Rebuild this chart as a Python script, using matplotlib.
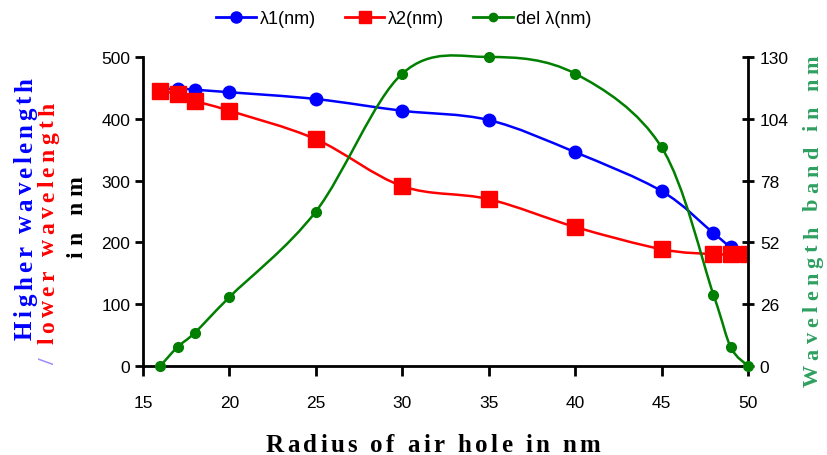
import numpy as np
import matplotlib
matplotlib.use("Agg")
import matplotlib.pyplot as plt
from matplotlib.path import Path
from matplotlib.patches import PathPatch
from matplotlib.lines import Line2D
from matplotlib.font_manager import FontProperties, findfont, get_font

# data
radius = [16, 17, 18, 20, 25, 30, 35, 40, 45, 48, 49, 50]
lambda1 = [447, 449, 447, 443, 432, 413, 398, 346, 283, 215, 193, 183]
lambda2 = [445, 440, 429, 413, 367, 291, 270, 225, 189, 181, 181, 181]
del_lambda = [0, 8, 14, 29, 65, 123, 130, 123, 92, 30, 8, 0]

left_ticks = [0, 100, 200, 300, 400, 500]
right_ticks = [0, 26, 52, 78, 104, 130]
x_ticks = [15, 20, 25, 30, 35, 40, 45, 50]

BLUE = "#0000ff"
RED = "#ff0000"
GREEN = "#007f00"
LABEL_GREEN = "#2ea060"
SLASH = "#9a8cff"
TICK_FONT = "Liberation Sans"
LABEL_FONT = "Liberation Serif"
W, H = 828, 456


def smooth_line(ax, x, y, color, lw=1.8, zorder=2):
    """Excel-style smoothed line: cubic Bezier through the points."""
    pts = np.column_stack([x, y]).astype(float)
    n = len(pts)
    verts = [pts[0]]
    codes = [Path.MOVETO]
    for i in range(n - 1):
        p_prev = pts[i - 1] if i > 0 else pts[i]
        p_next2 = pts[i + 2] if i + 2 < n else pts[i + 1]
        c1 = pts[i] + (pts[i + 1] - p_prev) / 6.0
        c2 = pts[i + 1] - (p_next2 - pts[i]) / 6.0
        verts += [c1, c2, pts[i + 1]]
        codes += [Path.CURVE4] * 3
    patch = PathPatch(Path(verts, codes), facecolor="none", edgecolor=color,
                      lw=lw, zorder=zorder, clip_on=False)
    ax.add_patch(patch)


def spaced_text(fig, base, mid, s, length, colors, size=15, vertical=False):
    """Letter-spaced bold serif text; base = baseline pixel, mid = centre along the text
    (pixels from the top-left of the image)."""
    prop = FontProperties(family=LABEL_FONT, weight="bold", size=size)
    font = get_font(findfont(prop))
    font.set_size(size, 100)
    adv = [font.load_char(ord(c)).linearHoriAdvance / 65536 for c in s]
    track = (length - sum(adv)) / (len(s) - 1)
    if isinstance(colors, str):
        colors = [colors] * len(s)
    pos = -length / 2
    for ch, a, col in zip(s, adv, colors):
        if vertical:
            x, y = base, H - mid + pos
            rot = 90
        else:
            x, y = mid + pos, H - base
            rot = 0
        fig.text(x / W, y / H, ch, rotation=rot, rotation_mode="anchor",
                 ha="left", va="baseline", fontproperties=prop, color=col)
        pos += a + track


fig = plt.figure(figsize=(W / 100, H / 100), dpi=100)
ax = fig.add_axes([143 / W, 1 - 367 / H, 605 / W, 309 / H])
ax2 = ax.twinx()

smooth_line(ax, radius, lambda1, BLUE, zorder=2)
ax.plot(radius, lambda1, linestyle="none", marker="o", ms=9, color=BLUE, zorder=3)
smooth_line(ax, radius, lambda2, RED, zorder=4)
ax.plot(radius, lambda2, linestyle="none", marker="s", ms=11, color=RED, zorder=5)

smooth_line(ax2, radius, del_lambda, GREEN, lw=1.8, zorder=2)
ax2.plot(radius, del_lambda, linestyle="none", marker="o", ms=7, color=GREEN,
         zorder=3, clip_on=False)

ax.set_xlim(15, 50)
ax.set_ylim(0, 500)
ax2.set_ylim(0, 130)
ax.set_xticks(x_ticks)
ax.set_yticks(left_ticks)
ax2.set_yticks(right_ticks)

for a in (ax, ax2):
    a.spines["top"].set_visible(False)
    for s in a.spines.values():
        s.set_linewidth(2)
ax.spines["right"].set_visible(False)
ax2.spines["left"].set_visible(False)
ax2.spines["bottom"].set_visible(False)

ax.tick_params(axis="x", direction="out", length=7, width=2, pad=14, labelsize=12.5)
ax.tick_params(axis="y", direction="out", length=6, width=2, pad=3, labelsize=12.5)
ax2.tick_params(axis="y", direction="inout", length=9, width=2, pad=4, labelsize=12.5)
for lbl in ax.get_xticklabels() + ax.get_yticklabels() + ax2.get_yticklabels():
    lbl.set_fontfamily(TICK_FONT)

# axis titles (letter-spaced as in the reference)
spaced_text(fig, 452, 433, "Radius of air hole in nm", 335, "black", size=18)
spaced_text(fig, 32, 209, "Higher wavelength", 262, BLUE, size=18, vertical=True)
line2 = "/ lower wavelength"
spaced_text(fig, 54, 234, line2, 262, [SLASH] + [RED] * (len(line2) - 1),
            size=17, vertical=True)
spaced_text(fig, 82, 217, "in nm", 81, "black", size=17, vertical=True)
spaced_text(fig, 818, 221, "Wavelength band in nm", 332, LABEL_GREEN, size=16,
            vertical=True)

handles = [
    Line2D([], [], color=BLUE, lw=2, marker="o", ms=8),
    Line2D([], [], color=RED, lw=2, marker="s", ms=9),
    Line2D([], [], color=GREEN, lw=2, marker="o", ms=6),
]
fig.legend(handles, ["λ1(nm)", "λ2(nm)", "del λ(nm)"], loc="center",
           bbox_to_anchor=(404 / W, 1 - 20 / H), ncol=3, frameon=False,
           handlelength=2.2, handletextpad=0.2, columnspacing=1.6,
           prop={"family": TICK_FONT, "size": 13})

fig.savefig("out.png", dpi=100)
